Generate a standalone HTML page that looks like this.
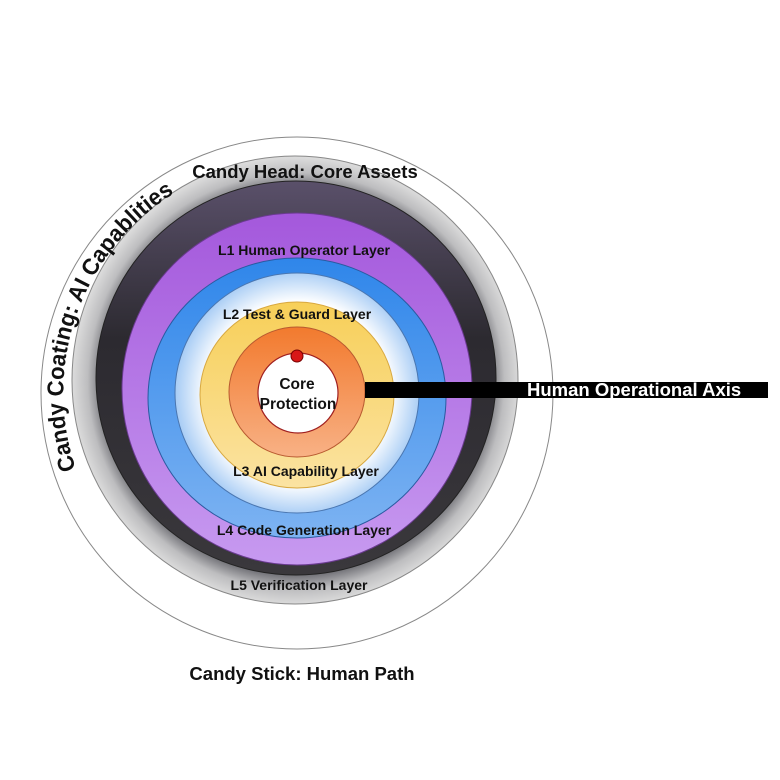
<!DOCTYPE html>
<html><head><meta charset="utf-8"><style>
html,body{margin:0;padding:0;background:#fff;}
svg{display:block;}
text{font-family:"Liberation Sans",sans-serif;font-weight:bold;fill:#111;}
</style></head><body>
<svg width="780" height="780" viewBox="0 0 780 780">
<defs>
<radialGradient id="gGray" cx="296" cy="381" r="224" gradientUnits="userSpaceOnUse">
<stop offset="0.86" stop-color="#6a6a70"/><stop offset="0.93" stop-color="#bdbdbf"/><stop offset="1" stop-color="#dcdcdc"/></radialGradient>
<linearGradient id="gDark" x1="0" y1="0" x2="0" y2="1"><stop offset="0" stop-color="#5a506a"/><stop offset="0.4" stop-color="#2c2a30"/><stop offset="1" stop-color="#3a383c"/></linearGradient>
<linearGradient id="gPurple" x1="0" y1="0" x2="0" y2="1"><stop offset="0" stop-color="#a458dc"/><stop offset="1" stop-color="#c79af0"/></linearGradient>
<linearGradient id="gBlue" x1="0" y1="0" x2="0" y2="1"><stop offset="0" stop-color="#2f86ea"/><stop offset="1" stop-color="#7db3f2"/></linearGradient>
<radialGradient id="gLight" cx="298" cy="393" r="122" gradientUnits="userSpaceOnUse"><stop offset="0.75" stop-color="#ffffff"/><stop offset="1" stop-color="#a9cdf5"/></radialGradient>
<linearGradient id="gYellow" x1="0" y1="0" x2="0" y2="1"><stop offset="0" stop-color="#f7cf58"/><stop offset="1" stop-color="#fbe3a2"/></linearGradient>
<linearGradient id="gOrange" x1="0" y1="0" x2="0" y2="1"><stop offset="0" stop-color="#f27a2e"/><stop offset="1" stop-color="#f8b185"/></linearGradient>
<path id="arc" d="M 76 469 A 235 235 0 0 1 173 194"/>
</defs>
<circle cx="297" cy="393" r="256" fill="#fff" stroke="#888" stroke-width="1"/>
<ellipse cx="295" cy="380" rx="223" ry="224" fill="url(#gGray)" stroke="#888" stroke-width="1"/>
<ellipse cx="296" cy="378" rx="200" ry="197" fill="url(#gDark)" stroke="#222" stroke-width="1"/>
<ellipse cx="297" cy="389" rx="175" ry="176" fill="url(#gPurple)" stroke="#6a3a90" stroke-width="1"/>
<ellipse cx="297" cy="398" rx="149" ry="140" fill="url(#gBlue)" stroke="#2a5aa0" stroke-width="1"/>
<ellipse cx="297" cy="393" rx="122" ry="120" fill="url(#gLight)" stroke="#4a76b0" stroke-width="1"/>
<ellipse cx="297" cy="395" rx="97" ry="93" fill="url(#gYellow)" stroke="#d8a840" stroke-width="1"/>
<ellipse cx="297" cy="392" rx="68" ry="65" fill="url(#gOrange)" stroke="#b85a30" stroke-width="1"/>
<circle cx="298" cy="393" r="40" fill="#fff" stroke="#a02020" stroke-width="1.2"/>
<circle cx="297" cy="356" r="6" fill="#d81818" stroke="#700" stroke-width="1"/>
<rect x="365" y="382" width="403" height="16" fill="#000"/>
<text x="527" y="396" font-size="18.5" style="fill:#fff">Human Operational Axis</text>
<text font-size="23"><textPath href="#arc" textLength="316" lengthAdjust="spacingAndGlyphs">Candy Coating: AI Capablities</textPath></text>
<text x="305" y="178" font-size="18.5" text-anchor="middle">Candy Head: Core Assets</text>
<text x="304" y="255" font-size="14" text-anchor="middle">L1 Human Operator Layer</text>
<text x="297" y="319" font-size="14" text-anchor="middle">L2 Test &amp; Guard Layer</text>
<text x="297" y="389" font-size="15.5" text-anchor="middle">Core</text>
<text x="298" y="409" font-size="15.5" text-anchor="middle">Protection</text>
<text x="306" y="476" font-size="14" text-anchor="middle">L3 AI Capability Layer</text>
<text x="304" y="535" font-size="14" text-anchor="middle">L4 Code Generation Layer</text>
<text x="299" y="590" font-size="14" text-anchor="middle">L5 Verification Layer</text>
<text x="302" y="680" font-size="18.5" text-anchor="middle">Candy Stick: Human Path</text>
</svg>
</body></html>
